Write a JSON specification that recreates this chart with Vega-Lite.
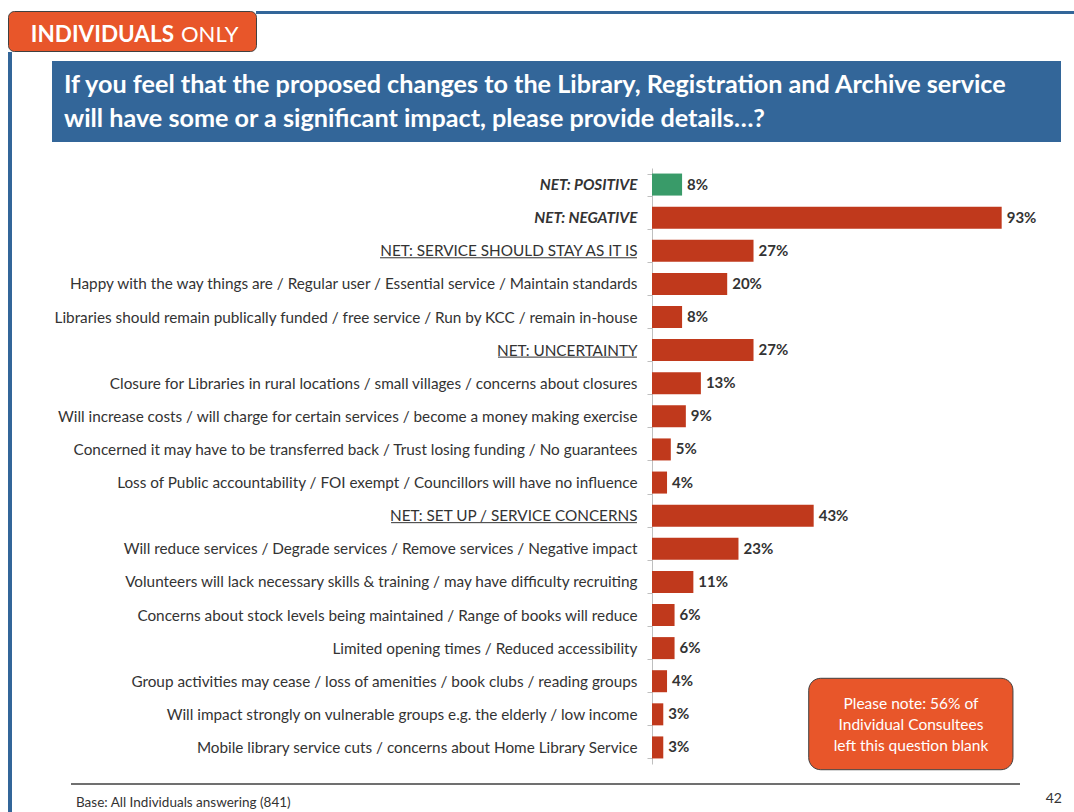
{
  "$schema": "https://vega.github.io/schema/vega-lite/v6.json",
  "background": "white",
  "padding": {"left": 7, "top": 10, "right": 0, "bottom": 0},
  "spacing": 0,
  "config": {"view": {"stroke": null}, "font": "Lato", "concat": {"spacing": 0}},
  "vconcat": [
    {
      "bounds": "flush",
      "spacing": 0,
      "hconcat": [
        {
          "width": 248, "height": 40,
          "view": {"fill": "#E8562A", "stroke": "#404040", "strokeWidth": 1, "cornerRadius": 6},
          "data": {"values": [{"a": "INDIVIDUALS", "b": "ONLY"}]},
          "layer": [
            {"mark": {"type": "text", "align": "right", "baseline": "alphabetic", "dx": 42, "dy": 11, "fontSize": 22.5, "fontWeight": "bold", "color": "white"},
             "encoding": {"text": {"field": "a"}}},
            {"mark": {"type": "text", "align": "left", "baseline": "alphabetic", "dx": 49, "dy": 11, "fontSize": 22, "fontWeight": "normal", "color": "white"},
             "encoding": {"text": {"field": "b"}}}
          ]
        },
        {
          "width": 819, "height": 3,
          "view": {"fill": "#336699", "stroke": null},
          "data": {"values": []},
          "mark": "point"
        }
      ]
    },
    {
      "spacing": 40,
      "hconcat": [
        {
          "width": 4, "height": 762,
          "view": {"fill": "#336699", "stroke": null},
          "data": {"values": []},
          "mark": "point"
        },
        {
          "spacing": 0,
          "vconcat": [
            {"width": 1009, "height": 9, "view": {"fill": "white", "stroke": null}, "data": {"values": []}, "mark": "point"},
            {
              "width": 1009, "height": 81,
              "view": {"fill": "#336699", "stroke": null},
              "data": {"values": [{}]},
              "mark": {"type": "text", "text": ["If you feel that the proposed changes to the Library, Registration and Archive service", "will have some or a significant impact, please provide details…?"], "align": "left", "baseline": "alphabetic", "dx": -492.5, "dy": -8.5, "lineHeight": 34, "fontSize": 25.2, "fontWeight": "bold", "color": "white"},
              "encoding": {}
            },
            {"width": 1009, "height": 18.5, "view": {"fill": "white", "stroke": null}, "data": {"values": []}, "mark": "point"},
            {
              "bounds": "flush",
              "spacing": 0,
              "hconcat": [
                {"width": 600, "height": 596, "view": {"fill": "white", "stroke": null}, "data": {"values": []}, "mark": "point"},
                {
                  "width": 376, "height": 596,
                  "data": {"values": [
                    {"label": "NET: POSITIVE", "value": 0.08, "group": "positive"},
                    {"label": "NET: NEGATIVE", "value": 0.93, "group": "negative"},
                    {"label": "NET: SERVICE SHOULD STAY AS IT IS", "value": 0.27, "group": "negative"},
                    {"label": "Happy with the way things are / Regular user /  Essential service / Maintain standards", "value": 0.20, "group": "negative"},
                    {"label": "Libraries should remain publically funded / free service / Run by KCC / remain in-house", "value": 0.08, "group": "negative"},
                    {"label": "NET: UNCERTAINTY", "value": 0.27, "group": "negative"},
                    {"label": "Closure for Libraries in rural locations / small villages / concerns about closures", "value": 0.13, "group": "negative"},
                    {"label": "Will increase costs / will charge for certain services / become a money making exercise", "value": 0.09, "group": "negative"},
                    {"label": "Concerned it may have to be transferred back / Trust losing funding / No guarantees", "value": 0.05, "group": "negative"},
                    {"label": "Loss of Public accountability / FOI exempt / Councillors will have no influence", "value": 0.04, "group": "negative"},
                    {"label": "NET: SET UP / SERVICE CONCERNS", "value": 0.43, "group": "negative"},
                    {"label": "Will reduce services / Degrade services / Remove services / Negative impact", "value": 0.23, "group": "negative"},
                    {"label": "Volunteers will lack necessary skills & training / may have difficulty recruiting", "value": 0.11, "group": "negative"},
                    {"label": "Concerns about stock levels being maintained / Range of books will reduce", "value": 0.06, "group": "negative"},
                    {"label": "Limited opening times / Reduced accessibility", "value": 0.06, "group": "negative"},
                    {"label": "Group activities may cease / loss of amenities / book clubs / reading groups", "value": 0.04, "group": "negative"},
                    {"label": "Will impact strongly on vulnerable groups e.g. the elderly / low income", "value": 0.03, "group": "negative"},
                    {"label": "Mobile library service cuts / concerns about Home Library Service", "value": 0.03, "group": "negative"}
                  ]},
                  "resolve": {"scale": {"y": "independent"}, "axis": {"y": "independent"}},
                  "layer": [
                    {
                      "encoding": {
                        "y": {
                          "field": "label", "type": "nominal", "sort": null, "title": null,
                          "scale": {"paddingInner": 0.335, "paddingOuter": 0.1675},
                          "axis": {
                            "domainColor": "#BFBFBF", "tickColor": "#BFBFBF", "tickSize": 5, "tickBand": "extent",
                            "labelPadding": 10, "labelFontSize": 15.3, "labelColor": "#333333", "labelFont": "Lato", "labelLimit": 800,
                            "labelFontWeight": {"condition": {"test": "datum.value == 'NET: POSITIVE' || datum.value == 'NET: NEGATIVE'", "value": "bold"}, "value": "normal"},
                            "labelFontStyle": {"condition": {"test": "datum.value == 'NET: POSITIVE' || datum.value == 'NET: NEGATIVE'", "value": "italic"}, "value": "normal"}
                          }
                        },
                        "x": {"field": "value", "type": "quantitative", "scale": {"domain": [0, 1]}, "axis": null}
                      },
                      "layer": [
                        {
                          "mark": {"type": "bar"},
                          "encoding": {
                            "color": {"field": "group", "type": "nominal", "scale": {"domain": ["positive", "negative"], "range": ["#399B69", "#C0391C"]}, "legend": null}
                          }
                        },
                        {
                          "mark": {"type": "text", "align": "left", "baseline": "middle", "dx": 5, "fontSize": 15, "fontWeight": "bold", "color": "#333333"},
                          "encoding": {"text": {"field": "value", "type": "quantitative", "format": ".0%"}}
                        },
                        {
                          "transform": [{"filter": "datum.label == 'NET: SERVICE SHOULD STAY AS IT IS'"}],
                          "mark": {"type": "rule", "color": "#333333", "strokeWidth": 1, "yOffset": 7},
                          "encoding": {"x": {"datum": -0.7234, "type": "quantitative"}, "x2": {"datum": -0.04}}
                        },
                        {
                          "transform": [{"filter": "datum.label == 'NET: UNCERTAINTY'"}],
                          "mark": {"type": "rule", "color": "#333333", "strokeWidth": 1, "yOffset": 7},
                          "encoding": {"x": {"datum": -0.4096, "type": "quantitative"}, "x2": {"datum": -0.04}}
                        },
                        {
                          "transform": [{"filter": "datum.label == 'NET: SET UP / SERVICE CONCERNS'"}],
                          "mark": {"type": "rule", "color": "#333333", "strokeWidth": 1, "yOffset": 7},
                          "encoding": {"x": {"datum": -0.694, "type": "quantitative"}, "x2": {"datum": -0.04}}
                        }
                      ]
                    },
                    {
                      "data": {"values": [{}]},
                      "layer": [
                        {
                          "mark": {"type": "rect", "fill": "#E8562A", "stroke": "#404040", "strokeWidth": 1, "cornerRadius": 12},
                          "encoding": {
                            "x": {"datum": 0.4168, "type": "quantitative"},
                            "x2": {"datum": 0.960},
                            "y": {"datum": 0.1438, "type": "quantitative", "scale": {"domain": [0, 1]}, "axis": null},
                            "y2": {"datum": -0.0096}
                          }
                        },
                        {
                          "mark": {"type": "text", "text": ["Please note: 56% of", "Individual Consultees", "left this question blank"], "align": "center", "baseline": "alphabetic", "lineHeight": 21, "fontSize": 15.5, "color": "white"},
                          "encoding": {
                            "x": {"datum": 0.6888, "type": "quantitative"},
                            "y": {"datum": 0.0923, "type": "quantitative", "scale": {"domain": [0, 1]}, "axis": null}
                          }
                        }
                      ]
                    }
                  ]
                }
              ]
            },
            {"width": 1009, "height": 11.5, "view": {"fill": "white", "stroke": null}, "data": {"values": []}, "mark": "point"},
            {
              "width": 1010, "height": 28,
              "data": {"values": [{}]},
              "layer": [
                {
                  "mark": {"type": "rule", "color": "#404040", "strokeWidth": 1.5},
                  "encoding": {
                    "x": {"datum": 0.0188, "type": "quantitative", "scale": {"domain": [0, 1]}, "axis": null},
                    "x2": {"datum": 0.9584},
                    "y": {"datum": 1, "type": "quantitative", "scale": {"domain": [0, 1]}, "axis": null}
                  }
                },
                {
                  "mark": {"type": "text", "text": "Base: All Individuals answering (841)", "align": "left", "baseline": "middle", "dx": 24, "dy": 5, "fontSize": 13.5, "color": "#333333"},
                  "encoding": {"x": {"datum": 0, "type": "quantitative"}}
                },
                {
                  "mark": {"type": "text", "text": "42", "align": "right", "baseline": "middle", "dy": 1, "fontSize": 14, "color": "#333333"},
                  "encoding": {"x": {"datum": 1, "type": "quantitative"}}
                }
              ]
            }
          ]
        }
      ]
    }
  ]
}
